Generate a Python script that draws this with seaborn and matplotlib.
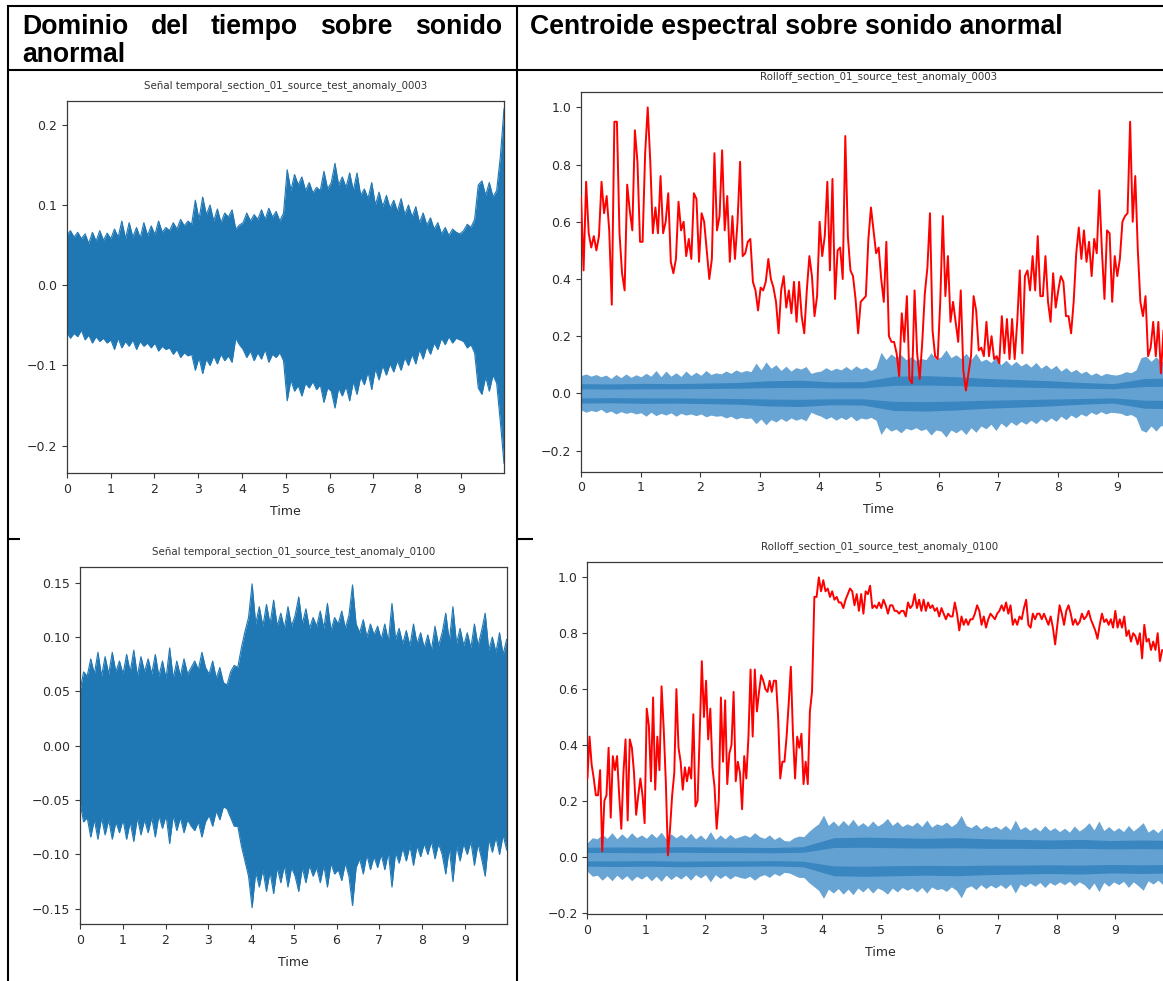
import numpy as np
import matplotlib
matplotlib.use("Agg")
import matplotlib.pyplot as plt
from matplotlib.lines import Line2D
import seaborn as sns

# ---------------------------------------------------------------- data
header_left = ["Dominio", "del", "tiempo", "sobre", "sonido"]
header_left_2 = "anormal"
header_right = "Centroide espectral sobre sonido anormal"

title_wave_0003 = "Señal temporal_section_01_source_test_anomaly_0003"
title_roll_0003 = "Rolloff_section_01_source_test_anomaly_0003"
title_wave_0100 = "Señal temporal_section_01_source_test_anomaly_0100"
title_roll_0100 = "Rolloff_section_01_source_test_anomaly_0100"

duration = 9.98
time_ticks = list(range(10))
wave_0003_ticks = [-0.2, -0.1, 0.0, 0.1, 0.2]
wave_0100_ticks = [-0.15, -0.10, -0.05, 0.0, 0.05, 0.10, 0.15]
rolloff_ticks = [-0.2, 0.0, 0.2, 0.4, 0.6, 0.8, 1.0]

# peak envelope of the waveform (upper / lower), evenly spaced over the clip
wave_0003_top = [
    0.062, 0.068, 0.060, 0.066, 0.058, 0.064, 0.052, 0.066, 0.055, 0.068, 0.056, 0.065,
    0.058, 0.070, 0.060, 0.080, 0.058, 0.078, 0.060, 0.072, 0.059, 0.078, 0.062, 0.074,
    0.063, 0.080, 0.066, 0.072, 0.068, 0.078, 0.070, 0.082, 0.074, 0.080, 0.076, 0.106,
    0.082, 0.110, 0.088, 0.100, 0.080, 0.095, 0.078, 0.090, 0.085, 0.094, 0.070, 0.075,
    0.078, 0.090, 0.080, 0.088, 0.082, 0.094, 0.082, 0.096, 0.085, 0.092, 0.080, 0.090,
    0.144, 0.118, 0.138, 0.125, 0.135, 0.118, 0.128, 0.115, 0.122, 0.118, 0.142, 0.120,
    0.128, 0.152, 0.125, 0.135, 0.122, 0.140, 0.118, 0.140, 0.112, 0.120, 0.108, 0.128,
    0.100, 0.116, 0.098, 0.112, 0.096, 0.106, 0.092, 0.108, 0.088, 0.100, 0.085, 0.098,
    0.078, 0.090, 0.075, 0.084, 0.070, 0.078, 0.064, 0.072, 0.062, 0.070, 0.066, 0.064,
    0.068, 0.076, 0.072, 0.082, 0.125, 0.130, 0.112, 0.128, 0.110, 0.118, 0.160, 0.220]
wave_0003_bottom = [
    -0.058, -0.066, -0.060, -0.064, -0.056, -0.068, -0.062, -0.072, -0.064, -0.070, -0.066, -0.072,
    -0.068, -0.080, -0.066, -0.078, -0.070, -0.076, -0.068, -0.080, -0.070, -0.076, -0.072, -0.078,
    -0.072, -0.082, -0.076, -0.080, -0.078, -0.086, -0.080, -0.090, -0.084, -0.088, -0.086, -0.106,
    -0.090, -0.110, -0.092, -0.100, -0.088, -0.098, -0.086, -0.094, -0.088, -0.096, -0.066, -0.074,
    -0.080, -0.090, -0.082, -0.094, -0.084, -0.092, -0.080, -0.096, -0.086, -0.090, -0.084, -0.094,
    -0.144, -0.118, -0.132, -0.125, -0.138, -0.122, -0.128, -0.120, -0.130, -0.124, -0.146, -0.128,
    -0.132, -0.153, -0.128, -0.138, -0.126, -0.144, -0.120, -0.136, -0.114, -0.124, -0.108, -0.130,
    -0.104, -0.118, -0.100, -0.112, -0.098, -0.108, -0.094, -0.106, -0.090, -0.100, -0.086, -0.098,
    -0.080, -0.092, -0.076, -0.086, -0.072, -0.080, -0.066, -0.074, -0.064, -0.072, -0.066, -0.068,
    -0.070, -0.078, -0.074, -0.084, -0.128, -0.136, -0.114, -0.132, -0.112, -0.122, -0.170, -0.222]

wave_0100_top = [
    0.050, 0.068, 0.064, 0.080, 0.066, 0.086, 0.064, 0.082, 0.066, 0.086, 0.068, 0.078,
    0.066, 0.084, 0.068, 0.088, 0.064, 0.082, 0.068, 0.080, 0.066, 0.084, 0.064, 0.078,
    0.062, 0.090, 0.062, 0.078, 0.064, 0.080, 0.066, 0.072, 0.078, 0.070, 0.086, 0.072,
    0.066, 0.078, 0.062, 0.072, 0.058, 0.056, 0.068, 0.074, 0.072, 0.090, 0.105, 0.118,
    0.149, 0.112, 0.128, 0.110, 0.130, 0.112, 0.134, 0.110, 0.122, 0.108, 0.128, 0.110,
    0.120, 0.137, 0.112, 0.126, 0.108, 0.118, 0.110, 0.124, 0.108, 0.131, 0.106, 0.118,
    0.112, 0.124, 0.108, 0.120, 0.148, 0.112, 0.104, 0.116, 0.100, 0.112, 0.102, 0.110,
    0.098, 0.112, 0.096, 0.131, 0.098, 0.108, 0.094, 0.106, 0.092, 0.112, 0.094, 0.104,
    0.090, 0.102, 0.088, 0.110, 0.092, 0.104, 0.122, 0.096, 0.128, 0.094, 0.108, 0.092,
    0.104, 0.090, 0.112, 0.092, 0.106, 0.122, 0.088, 0.100, 0.086, 0.104, 0.084, 0.098]
wave_0100_bottom = [
    -0.052, -0.070, -0.066, -0.084, -0.068, -0.086, -0.066, -0.082, -0.068, -0.086, -0.070, -0.080,
    -0.068, -0.086, -0.070, -0.088, -0.066, -0.082, -0.068, -0.080, -0.066, -0.084, -0.064, -0.076,
    -0.064, -0.090, -0.064, -0.078, -0.066, -0.080, -0.068, -0.074, -0.078, -0.070, -0.084, -0.070,
    -0.064, -0.074, -0.060, -0.068, -0.056, -0.058, -0.066, -0.074, -0.074, -0.092, -0.106, -0.120,
    -0.149, -0.116, -0.130, -0.114, -0.134, -0.116, -0.136, -0.112, -0.126, -0.110, -0.130, -0.112,
    -0.120, -0.134, -0.112, -0.126, -0.110, -0.120, -0.112, -0.126, -0.110, -0.130, -0.108, -0.118,
    -0.114, -0.124, -0.108, -0.120, -0.147, -0.112, -0.104, -0.118, -0.100, -0.114, -0.102, -0.112,
    -0.100, -0.114, -0.098, -0.130, -0.098, -0.108, -0.094, -0.106, -0.092, -0.110, -0.092, -0.102,
    -0.090, -0.100, -0.088, -0.104, -0.090, -0.100, -0.118, -0.094, -0.125, -0.092, -0.106, -0.090,
    -0.100, -0.088, -0.110, -0.090, -0.104, -0.120, -0.086, -0.098, -0.084, -0.100, -0.082, -0.096]

# frame energy bands of the waveform (outer edge of the dense band / quiet core)
rms_0003 = [0.034, 0.033, 0.035, 0.034, 0.036, 0.038, 0.044, 0.046, 0.040, 0.041,
            0.060, 0.062, 0.058, 0.052, 0.048, 0.044, 0.038, 0.034, 0.052, 0.054]
core_0003 = [0.016, 0.015, 0.016, 0.016, 0.017, 0.018, 0.020, 0.021, 0.019, 0.019,
             0.028, 0.029, 0.027, 0.024, 0.022, 0.020, 0.018, 0.016, 0.024, 0.025]
rms_0100 = [0.034, 0.035, 0.034, 0.036, 0.035, 0.034, 0.033, 0.036, 0.068, 0.070,
            0.068, 0.066, 0.068, 0.064, 0.062, 0.060, 0.062, 0.058, 0.060, 0.058]
core_0100 = [0.015, 0.015, 0.014, 0.016, 0.015, 0.015, 0.014, 0.016, 0.033, 0.034,
             0.032, 0.031, 0.032, 0.030, 0.030, 0.029, 0.030, 0.028, 0.029, 0.028]

# normalised spectral rolloff per frame
rolloff_0003 = [
    0.69, 0.43, 0.74, 0.56, 0.51, 0.55, 0.50, 0.55, 0.74, 0.63, 0.69, 0.57, 0.31, 0.95, 0.95,
    0.56, 0.42, 0.36, 0.73, 0.64, 0.57, 0.92, 0.81, 0.53, 0.53, 0.84, 1.00, 0.81, 0.56, 0.65,
    0.56, 0.76, 0.56, 0.60, 0.70, 0.46, 0.42, 0.47, 0.67, 0.57, 0.60, 0.48, 0.54, 0.47, 0.70,
    0.68, 0.46, 0.63, 0.60, 0.50, 0.40, 0.47, 0.84, 0.57, 0.62, 0.85, 0.57, 0.69, 0.46, 0.62,
    0.47, 0.60, 0.81, 0.48, 0.49, 0.53, 0.54, 0.39, 0.36, 0.29, 0.37, 0.36, 0.39, 0.47, 0.40,
    0.37, 0.32, 0.21, 0.36, 0.41, 0.30, 0.36, 0.28, 0.39, 0.25, 0.39, 0.27, 0.21, 0.36, 0.48,
    0.41, 0.27, 0.34, 0.60, 0.48, 0.55, 0.74, 0.43, 0.75, 0.33, 0.50, 0.51, 0.40, 0.90, 0.55,
    0.43, 0.41, 0.33, 0.21, 0.32, 0.33, 0.34, 0.54, 0.65, 0.57, 0.49, 0.51, 0.40, 0.32, 0.53,
    0.20, 0.18, 0.18, 0.14, 0.06, 0.28, 0.18, 0.34, 0.05, 0.035, 0.36, 0.14, 0.05, 0.18, 0.35,
    0.44, 0.63, 0.22, 0.13, 0.12, 0.32, 0.62, 0.34, 0.48, 0.25, 0.32, 0.25, 0.18, 0.36, 0.08,
    0.01, 0.07, 0.13, 0.34, 0.29, 0.15, 0.16, 0.13, 0.25, 0.13, 0.20, 0.12, 0.13, 0.105, 0.27,
    0.14, 0.26, 0.12, 0.26, 0.12, 0.25, 0.43, 0.14, 0.41, 0.43, 0.36, 0.48, 0.36, 0.55, 0.34,
    0.34, 0.48, 0.32, 0.25, 0.42, 0.30, 0.36, 0.41, 0.39, 0.27, 0.27, 0.21, 0.32, 0.49, 0.58,
    0.47, 0.57, 0.46, 0.53, 0.41, 0.54, 0.49, 0.71, 0.50, 0.33, 0.57, 0.56, 0.32, 0.48, 0.41,
    0.47, 0.60, 0.62, 0.63, 0.95, 0.60, 0.76, 0.50, 0.32, 0.27, 0.34, 0.13, 0.16, 0.25, 0.13,
    0.25, 0.07, 0.22]
rolloff_0003_span = (0.0, 9.77)

rolloff_0100_rise = [
    0.28, 0.43, 0.33, 0.28, 0.22, 0.22, 0.31, 0.02, 0.20, 0.22, 0.39, 0.14, 0.36, 0.31, 0.36,
    0.22, 0.10, 0.30, 0.42, 0.13, 0.42, 0.39, 0.30, 0.15, 0.22, 0.28, 0.22, 0.12, 0.53, 0.47,
    0.27, 0.57, 0.24, 0.43, 0.31, 0.61, 0.46, 0.27, 0.005, 0.10, 0.22, 0.30, 0.60, 0.39, 0.34,
    0.24, 0.32, 0.27, 0.32, 0.28, 0.51, 0.18, 0.20, 0.44, 0.70, 0.50, 0.63, 0.42, 0.53, 0.32,
    0.25, 0.10, 0.20, 0.57, 0.34, 0.56, 0.26, 0.37, 0.40, 0.59, 0.27, 0.34, 0.30, 0.17, 0.36,
    0.28, 0.43, 0.67, 0.43, 0.67, 0.52, 0.59, 0.65, 0.63, 0.60, 0.59, 0.63, 0.59, 0.63, 0.63,
    0.50, 0.28, 0.34, 0.34, 0.43, 0.55, 0.68, 0.44, 0.28, 0.43, 0.39, 0.44, 0.26, 0.34, 0.26,
    0.52, 0.59]
rolloff_0100_rise_span = (0.0, 3.83)
rolloff_0100_plateau = [
    0.93, 0.93, 1.00, 0.95, 0.99, 0.95, 0.96, 0.93, 0.95, 0.92, 0.93, 0.91, 0.91, 0.89, 0.92,
    0.94, 0.96, 0.95, 0.90, 0.94, 0.88, 0.94, 0.87, 0.95, 0.94, 0.97, 0.89, 0.90, 0.89, 0.91,
    0.89, 0.92, 0.90, 0.87, 0.90, 0.90, 0.88, 0.88, 0.87, 0.88, 0.88, 0.86, 0.91, 0.89, 0.90,
    0.94, 0.89, 0.92, 0.88, 0.92, 0.88, 0.91, 0.89, 0.90, 0.88, 0.89, 0.86, 0.89, 0.87, 0.85,
    0.87, 0.86, 0.86, 0.91, 0.87, 0.81, 0.86, 0.83, 0.85, 0.83, 0.85, 0.85, 0.87, 0.90, 0.88,
    0.83, 0.86, 0.82, 0.85, 0.87, 0.86, 0.85, 0.87, 0.88, 0.90, 0.88, 0.91, 0.87, 0.90, 0.83,
    0.85, 0.83, 0.86, 0.85, 0.89, 0.92, 0.83, 0.82, 0.87, 0.85, 0.87, 0.87, 0.85, 0.87, 0.85,
    0.83, 0.86, 0.82, 0.76, 0.83, 0.90, 0.87, 0.83, 0.88, 0.90, 0.87, 0.83, 0.85, 0.83, 0.84,
    0.87, 0.85, 0.86, 0.88, 0.85, 0.83, 0.81, 0.78, 0.83, 0.87, 0.84, 0.85, 0.83, 0.85, 0.82,
    0.88, 0.82, 0.85, 0.82, 0.86, 0.79, 0.81, 0.77, 0.80, 0.79, 0.76, 0.80, 0.71, 0.83, 0.77,
    0.78, 0.74, 0.77, 0.74, 0.80, 0.70, 0.74]
rolloff_0100_plateau_span = (3.87, 9.80)

# ---------------------------------------------------------------- style
sns.set_style("ticks")
plt.rcParams.update({
    "font.family": ["DejaVu Sans"],
    "axes.edgecolor": "#3a3a3a",
    "axes.linewidth": 0.9,
    "xtick.color": "#3a3a3a",
    "ytick.color": "#3a3a3a",
    "xtick.labelcolor": "#2b2b2b",
    "ytick.labelcolor": "#2b2b2b",
    "xtick.major.size": 3.5,
    "ytick.major.size": 3.5,
    "xtick.labelsize": 9,
    "ytick.labelsize": 9,
    "axes.labelsize": 9,
    "axes.labelcolor": "#2b2b2b",
})

WAVE = "#1f77b4"
ENV_LIGHT = "#68a5d4"
ENV_DARK = "#3a86c1"
ENV_CORE = "#62a1d1"
ROLL = "#ff0000"

W, H, DPI = 1163, 981, 100
fig = plt.figure(figsize=(W / DPI, H / DPI), dpi=DPI)
fig.patch.set_facecolor("white")


def frame(left, top, right, bottom):
    return [left / W, 1 - bottom / H, (right - left) / W, (bottom - top) / H]


ax_a = fig.add_axes(frame(66.7, 100.7, 504.0, 473.0))
ax_b = fig.add_axes(frame(581.0, 91.7, 1176.0, 471.7))
ax_c = fig.add_axes(frame(80.0, 567.0, 506.7, 924.0))
ax_d = fig.add_axes(frame(587.4, 561.7, 1172.7, 914.0))

t_wave = np.linspace(0, duration, len(wave_0003_top))
t_rms = np.linspace(0, duration, len(rms_0003))


def draw_waveform(ax, top, bottom):
    ax.fill_between(t_wave, bottom, top, color=WAVE, lw=0)
    sns.lineplot(x=t_wave, y=top, ax=ax, color=WAVE, lw=0.8, estimator=None)
    sns.lineplot(x=t_wave, y=bottom, ax=ax, color=WAVE, lw=0.8, estimator=None)


def draw_envelope(ax, top, bottom, rms, core):
    ax.fill_between(t_wave, bottom, top, color=ENV_LIGHT, lw=0, zorder=1)
    ax.fill_between(t_rms, -np.asarray(rms), rms, color=ENV_DARK, lw=0, zorder=1.1)
    ax.fill_between(t_rms, -np.asarray(core), core, color=ENV_CORE, lw=0, zorder=1.2)


def finish(ax, title, yticks, ylim):
    ax.set_xlim(0, duration)
    ax.set_ylim(*ylim)
    ax.set_xticks(time_ticks)
    ax.set_xticklabels([str(v) for v in time_ticks])
    ax.set_yticks(yticks)
    ax.set_xlabel("Time", labelpad=6.5)
    ax.set_ylabel("")
    ax.set_title(title, fontsize=7.4, color="#333333", pad=9)
    for s in ax.spines.values():
        s.set_visible(True)


# left column: raw waveforms
draw_waveform(ax_a, wave_0003_top, wave_0003_bottom)
finish(ax_a, title_wave_0003, wave_0003_ticks, (-0.234, 0.230))

draw_waveform(ax_c, wave_0100_top, wave_0100_bottom)
finish(ax_c, title_wave_0100, wave_0100_ticks, (-0.164, 0.1645))

# right column: waveform envelope with the rolloff curve on top
draw_envelope(ax_b, wave_0003_top, wave_0003_bottom, rms_0003, core_0003)
t_roll_a = np.linspace(*rolloff_0003_span, len(rolloff_0003))
sns.lineplot(x=t_roll_a, y=rolloff_0003, ax=ax_b, color=ROLL, lw=1.4,
             estimator=None, sort=False, zorder=3)
finish(ax_b, title_roll_0003, rolloff_ticks, (-0.274, 1.055))

draw_envelope(ax_d, wave_0100_top, wave_0100_bottom, rms_0100, core_0100)
t_roll_b = np.concatenate([
    np.linspace(*rolloff_0100_rise_span, len(rolloff_0100_rise)),
    np.linspace(*rolloff_0100_plateau_span, len(rolloff_0100_plateau)),
])
sns.lineplot(x=t_roll_b, y=rolloff_0100_rise + rolloff_0100_plateau, ax=ax_d,
             color=ROLL, lw=1.4, estimator=None, sort=False, zorder=3)
finish(ax_d, title_roll_0100, rolloff_ticks, (-0.205, 1.056))

# ---------------------------------------------------------------- table frame
def rule(x0, y0, x1, y1, lw=1.5):
    fig.add_artist(Line2D([x0 / W, x1 / W], [1 - y0 / H, 1 - y1 / H],
                          transform=fig.transFigure, color="black", lw=lw,
                          solid_capstyle="butt", zorder=10))


rule(6.5, 5.5, W, 5.5)
rule(7.5, 5, 7.5, H)
rule(517, 5, 517, H)
rule(6.5, 69.5, W, 69.5)
rule(6.5, 539, 20, 539)
rule(517, 539, 533, 539)

# ---------------------------------------------------------------- header text
head_kw = dict(family="Liberation Sans", weight="bold", color="black")
fig.canvas.draw()
renderer = fig.canvas.get_renderer()

probe = fig.text(0, 0, header_right, fontsize=16, **head_kw)
size = 16 * 534 / probe.get_window_extent(renderer).width
probe.remove()

fig.text(530 / W, 1 - 34 / H, header_right, fontsize=size, va="baseline", **head_kw)

widths = []
for word in header_left:
    p = fig.text(0, 0, word, fontsize=size, **head_kw)
    widths.append(p.get_window_extent(renderer).width)
    p.remove()
x_left, x_right = 22.0, 502.0
gap = (x_right - x_left - sum(widths)) / (len(header_left) - 1)
x = x_left
for word, w in zip(header_left, widths):
    fig.text(x / W, 1 - 34 / H, word, fontsize=size, va="baseline", **head_kw)
    x += w + gap
fig.text(x_left / W, 1 - 62 / H, header_left_2, fontsize=size, va="baseline", **head_kw)

fig.savefig("out.png", dpi=DPI, facecolor="white")
